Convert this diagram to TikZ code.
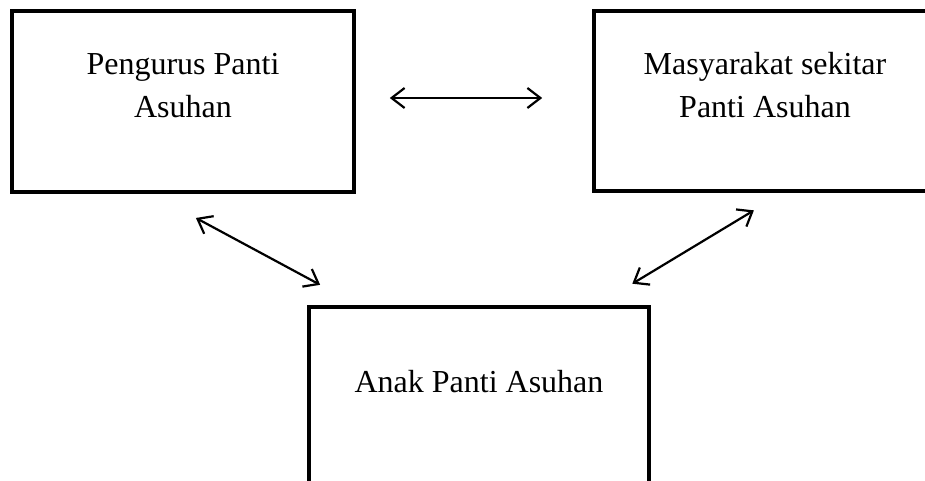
\documentclass[tikz,border=0pt]{standalone}
\usepackage{fontspec}
\setmainfont{Liberation Serif}
\usetikzlibrary{arrows.meta,calc}

\tikzset{
  box/.style={draw=black, line width=3.6pt, rectangle, inner sep=0pt, fill=none},
  lbl/.style={font=\fontsize{32}{43}\selectfont, align=center, inner sep=0pt},
  barb/.tip={Straight Barb[length=13pt,width=20pt,line width=2.2pt]},
  biarrow/.style={line width=2.2pt, barb-barb}
}

\begin{document}
\begin{tikzpicture}[x=1pt, y=-1pt]
  \useasboundingbox (0,0) rectangle (925,481);
  \clip (0,0) rectangle (925,481);

  % three groups, drawn as framed boxes
  \node[box, minimum width=342pt, minimum height=181pt] (pengurus) at (183,101.5) {};
  \node[box, minimum width=342pt, minimum height=180pt] (masyarakat) at (765,101) {};
  \node[box, minimum width=340pt, minimum height=180pt] (anak) at (479,397) {};

  % their labels
  \node[lbl] (pengurusText) at (183,86) {Pengurus Panti\\Asuhan};
  \node[lbl] (masyarakatText) at (765,85.5) {Masyarakat sekitar\\Panti Asuhan};
  \node[lbl, anchor=base] (anakText) at (479,392) {Anak Panti Asuhan};

  % two-way relations between the groups
  \draw[biarrow, shorten <=34pt, shorten >=50pt]
    ([yshift=3.5pt]pengurus.east) -- ([yshift=3pt]masyarakat.west);
  \draw[biarrow, shorten <=51pt, shorten >=43pt]
    ([xshift=-32pt]pengurus.south) -- ([xshift=-121pt]anak.north);
  \draw[biarrow, shorten <=34pt, shorten >=41.6pt]
    ([xshift=18pt]masyarakat.south) -- ([xshift=117.7pt]anak.north);
\end{tikzpicture}
\end{document}
